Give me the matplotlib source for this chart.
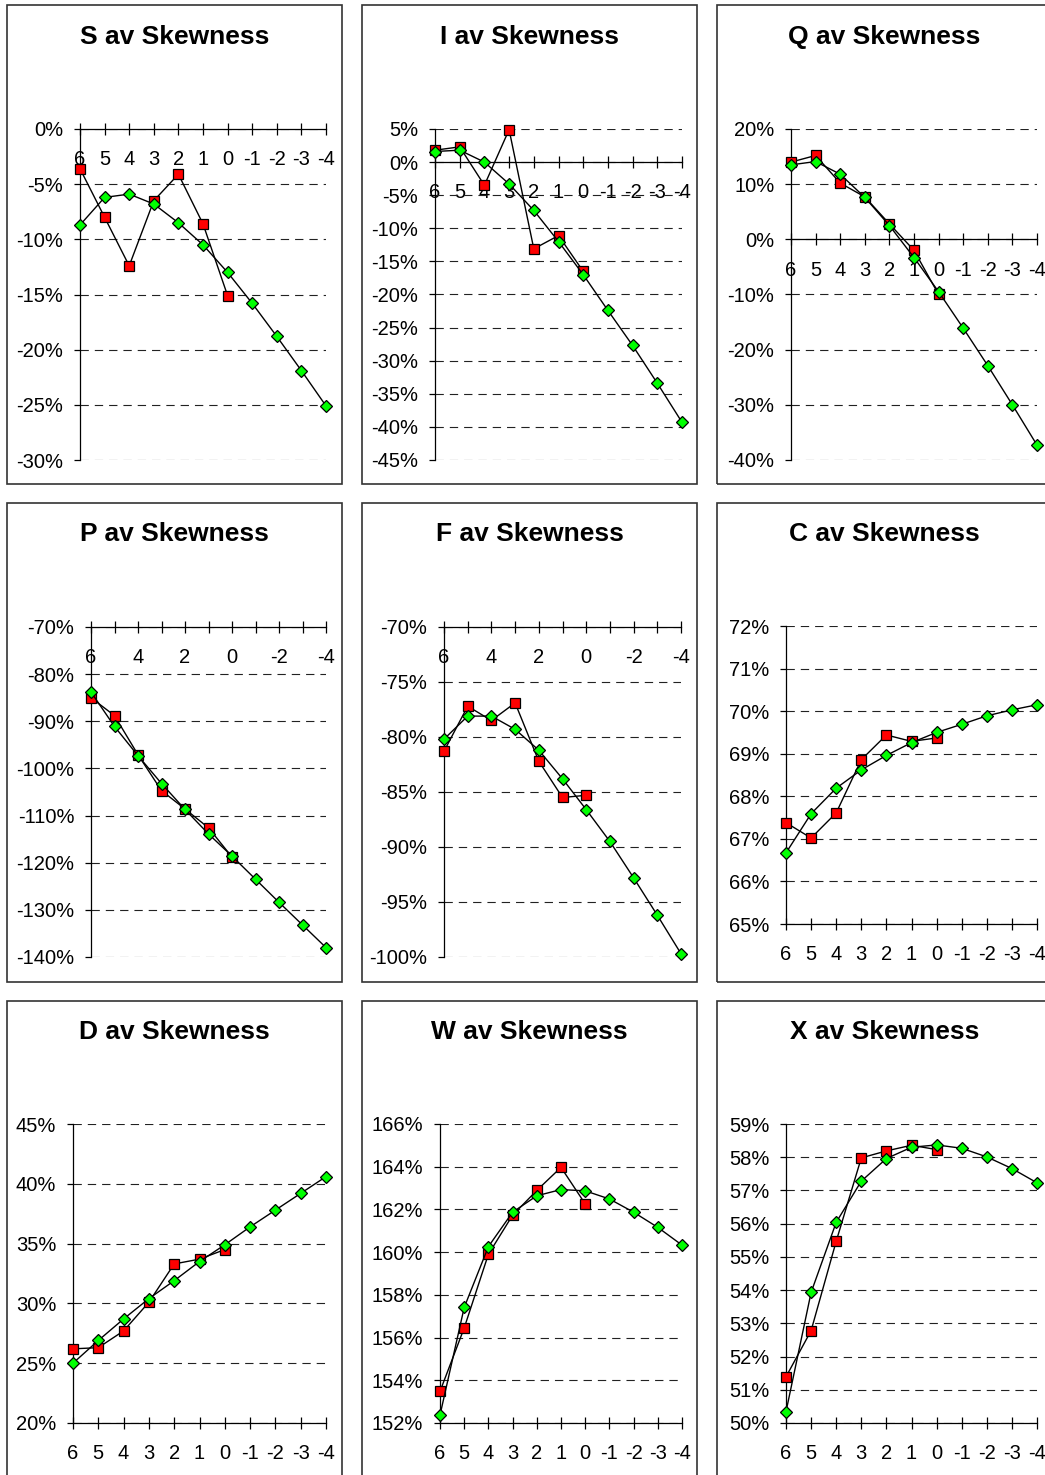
import matplotlib
matplotlib.use("Agg")
import matplotlib.pyplot as plt
from matplotlib.patches import Rectangle
from matplotlib.ticker import FixedLocator, FixedFormatter, FuncFormatter

plt.rcParams["font.family"] = ["Liberation Sans", "DejaVu Sans"]
plt.rcParams["lines.scale_dashes"] = False

# Skewness categories (x axis, shown from 6 down to -4)
skew = [6, 5, 4, 3, 2, 1, 0, -1, -2, -3, -4]
skew_labels = ["6", "5", "4", "3", "2", "1", "0", "-1", "-2", "-3", "-4"]
skew_labels_sparse = ["6", "", "4", "", "2", "", "0", "", "-2", "", "-4"]

# Values in percent; red series covers skewness 6..0, green series 6..-4
s_red = [-3.6, -8.0, -12.4, -6.5, -4.1, -8.6, -15.1]
s_green = [-8.7, -6.2, -5.9, -6.8, -8.5, -10.5, -13.0, -15.8, -18.8, -21.9, -25.1]

i_red = [1.8, 2.3, -3.5, 4.9, -13.1, -11.1, -16.5]
i_green = [1.6, 1.8, 0.0, -3.3, -7.3, -12.0, -17.0, -22.4, -27.7, -33.4, -39.3]

q_red = [14.0, 15.2, 10.2, 7.7, 2.8, -2.0, -10.0]
q_green = [13.5, 14.1, 11.8, 7.6, 2.5, -3.3, -9.5, -16.1, -22.9, -30.0, -37.3]

p_red = [-85.0, -88.8, -97.1, -104.7, -108.6, -112.6, -118.8]
p_green = [-83.8, -91.1, -97.3, -103.2, -108.7, -113.9, -118.6, -123.5, -128.4, -133.2, -138.0]

f_red = [-81.3, -77.2, -78.5, -76.9, -82.2, -85.5, -85.3]
f_green = [-80.2, -78.1, -78.1, -79.3, -81.2, -83.8, -86.6, -89.5, -92.8, -96.2, -99.7]

c_red = [67.38, 67.02, 67.61, 68.86, 69.44, 69.29, 69.37]
c_green = [66.67, 67.59, 68.19, 68.62, 68.96, 69.26, 69.50, 69.69, 69.89, 70.03, 70.15]

d_red = [26.2, 26.3, 27.7, 30.1, 33.3, 33.7, 34.5]
d_green = [25.0, 26.9, 28.7, 30.4, 31.9, 33.5, 34.9, 36.4, 37.8, 39.2, 40.6]

w_red = [153.48, 156.45, 159.90, 161.73, 162.89, 163.97, 162.26]
w_green = [152.37, 157.41, 160.26, 161.87, 162.64, 162.93, 162.87, 162.49, 161.87, 161.16, 160.33]

x_red = [51.39, 52.78, 55.47, 57.98, 58.19, 58.36, 58.23]
x_green = [50.34, 53.93, 56.04, 57.28, 57.96, 58.30, 58.37, 58.27, 58.01, 57.66, 57.23]

titles = ["S av Skewness", "I av Skewness", "Q av Skewness",
          "P av Skewness", "F av Skewness", "C av Skewness",
          "D av Skewness", "W av Skewness", "X av Skewness"]

# Layout (pixels, origin top-left)
W, H = 1045, 1475
col_edges = [(7, 342), (362, 697), (717, 1052)]
row_edges = [(5, 484), (503, 982), (1001, 1490)]
title_y = [37, 534, 1032]

panels = [
    # series, y range, y step, x-axis position, x labels, plot box (l, t, r, b)
    (s_red, s_green, (-30, 0), 5, 0, skew_labels, (80, 129, 326, 460)),
    (i_red, i_green, (-45, 5), 5, 0, skew_labels, (435, 129, 682, 460)),
    (q_red, q_green, (-40, 20), 10, 0, skew_labels, (791, 129, 1037, 460)),
    (p_red, p_green, (-140, -70), 10, -70, skew_labels_sparse, (91, 627, 326, 957)),
    (f_red, f_green, (-100, -70), 5, -70, skew_labels_sparse, (444, 627, 681, 957)),
    (c_red, c_green, (65, 72), 1, 65, skew_labels, (786, 626, 1037, 924)),
    (d_red, d_green, (20, 45), 5, 20, skew_labels, (73, 1124, 326, 1423)),
    (w_red, w_green, (152, 166), 2, 152, skew_labels, (440, 1124, 682, 1423)),
    (x_red, x_green, (50, 59), 1, 50, skew_labels, (786, 1124, 1037, 1423)),
]

fig = plt.figure(figsize=(W / 100, H / 100), dpi=100)


def fig_box(l, t, r, b):
    return [l / W, 1 - b / H, (r - l) / W, (b - t) / H]


# Panel frames and titles
for k, title in enumerate(titles):
    row, col = divmod(k, 3)
    x0, x1 = col_edges[col]
    y0, y1 = row_edges[row]
    fig.patches.append(Rectangle((x0 / W, 1 - y1 / H), (x1 - x0) / W, (y1 - y0) / H,
                                 transform=fig.transFigure, fill=False,
                                 edgecolor="#333333", linewidth=1.2))
    fig.text((x0 + x1) / 2 / W, 1 - title_y[row] / H, title, ha="center", va="center",
             fontsize=19, fontweight="bold")

pct = FuncFormatter(lambda v, _: f"{v:.0f}%")

for red, green, (ylo, yhi), ystep, xcross, xlabels, box in panels:
    ax = fig.add_axes(fig_box(*box))
    ax.set_xlim(skew[0], skew[-1])
    ax.set_ylim(ylo, yhi)

    yt = list(range(ylo, yhi + 1, ystep))
    ax.yaxis.set_major_locator(FixedLocator(yt))
    ax.yaxis.set_major_formatter(pct)
    ax.xaxis.set_major_locator(FixedLocator(skew))
    ax.xaxis.set_major_formatter(FixedFormatter(xlabels))

    for side in ("top", "right"):
        ax.spines[side].set_visible(False)
    ax.spines["bottom"].set_position(("data", xcross))
    for side in ("left", "bottom"):
        ax.spines[side].set_linewidth(0.9)
        ax.spines[side].set_color("black")
        ax.spines[side].set_zorder(2.6)

    ax.grid(axis="y", color="#222222", linewidth=0.8, linestyle=(0, (6.0, 4.3)))
    ax.set_axisbelow(True)

    ax.tick_params(axis="x", direction="inout", length=8.5, width=0.9, pad=11,
                   labelsize=14.5)
    ax.tick_params(axis="y", direction="out", length=4, width=0.9, pad=8,
                   labelsize=14.5)

    ax.plot(skew[:len(red)], red, color="black", linewidth=1.0, marker="s",
            markersize=7, markerfacecolor="#ff0000", markeredgecolor="black",
            markeredgewidth=0.9, clip_on=False, zorder=3)
    ax.plot(skew[:len(green)], green, color="black", linewidth=1.0, marker="D",
            markersize=6, markerfacecolor="#00ff00", markeredgecolor="black",
            markeredgewidth=0.9, clip_on=False, zorder=4)

fig.savefig("out.png", dpi=100)
